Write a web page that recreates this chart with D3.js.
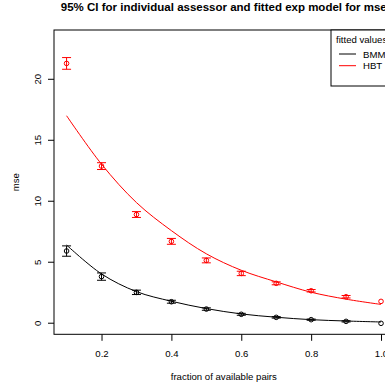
<!DOCTYPE html>
<html>
<head>
<meta charset="utf-8">
<script src="https://cdn.jsdelivr.net/npm/d3@7"></script>
<style>
  body { margin: 0; background: #fff; }
  svg { font-family: "Liberation Sans", Arial, sans-serif; }
</style>
</head>
<body>
<div id="chart"></div>
<script>
// fractions of available pairs
const fractions = [0.1, 0.2, 0.3, 0.4, 0.5, 0.6, 0.7, 0.8, 0.9, 1.0];

// BMM: mse per fraction with 95% CI (last point has no interval)
const bmmMse   = [5.88, 3.78, 2.49, 1.72, 1.12, 0.69, 0.44, 0.25, 0.11, -0.05];
const bmmLower = [5.45, 3.48, 2.31, 1.60, 1.02, 0.61, 0.38, 0.20, 0.06, null];
const bmmUpper = [6.30, 4.08, 2.67, 1.84, 1.22, 0.77, 0.50, 0.30, 0.16, null];
const bmmFit   = [6.37, 4.00, 2.55, 1.76, 1.16, 0.72, 0.45, 0.25, 0.14, 0.06];

// HBT
const hbtMse   = [21.26, 12.84, 8.87, 6.67, 5.11, 4.04, 3.23, 2.62, 2.13, 1.75];
const hbtLower = [20.78, 12.56, 8.63, 6.43, 4.91, 3.86, 3.11, 2.52, 2.03, null];
const hbtUpper = [21.74, 13.12, 9.11, 6.91, 5.31, 4.22, 3.35, 2.72, 2.23, null];
const hbtFit   = [16.97, 13.00, 9.85, 7.55, 5.65, 4.30, 3.35, 2.50, 1.93, 1.50];

const xTicks = [0.2, 0.4, 0.6, 0.8, 1.0];
const yTicks = [0, 5, 10, 15, 20];

const titleText = '95% CI for individual assessor and fitted exp model for mse';
const legendTitle = 'fitted values';
const seriesNames = ['BMM', 'HBT'];
const seriesColors = ['#000000', '#ff0000'];

const width = 385, height = 385;
const plot = { left: 54, right: 393.6, top: 30, bottom: 334.3 };
const fontSize = '9.6px';

const svg = d3.select('#chart')
  .append('svg')
    .attr('width', width)
    .attr('height', height);

const x = d3.scaleLinear()
  .domain([0.064, 1.036])
  .range([plot.left, plot.right]);

const y = d3.scaleLinear()
  .domain([-0.95, 24.0])
  .range([plot.bottom, plot.top]);

// title
svg.append('text')
  .attr('x', (plot.left + plot.right) / 2)
  .attr('y', 10.5)
  .attr('text-anchor', 'middle')
  .style('font-size', '11.5px')
  .style('font-weight', 'bold')
  .text(titleText);

// x axis
const xAxis = d3.axisBottom(x)
  .tickValues(xTicks)
  .tickSize(6.5)
  .tickSizeOuter(0)
  .tickPadding(9)
  .tickFormat(d3.format('.1f'));

const gx = svg.append('g')
  .attr('transform', 'translate(0,' + plot.bottom + ')')
  .call(xAxis);
gx.select('.domain').remove();
gx.selectAll('text')
  .attr('fill', '#000')
  .style('font-size', fontSize)
  .style('font-family', '"Liberation Sans", Arial, sans-serif');

// y axis, labels rotated like base R
const yAxis = d3.axisLeft(y)
  .tickValues(yTicks)
  .tickSize(6)
  .tickSizeOuter(0)
  .tickFormat(d3.format('d'));

const gy = svg.append('g')
  .attr('transform', 'translate(' + plot.left + ',0)')
  .call(yAxis);
gy.select('.domain').remove();
gy.selectAll('.tick text')
  .attr('x', null)
  .attr('dy', null)
  .attr('text-anchor', 'middle')
  .attr('transform', 'translate(-13.5,0) rotate(-90)')
  .attr('fill', '#000')
  .style('font-size', fontSize)
  .style('font-family', '"Liberation Sans", Arial, sans-serif');

// axis titles
svg.append('text')
  .attr('x', (plot.left + plot.right) / 2)
  .attr('y', 379.5)
  .attr('text-anchor', 'middle')
  .style('font-size', fontSize)
  .text('fraction of available pairs');

svg.append('text')
  .attr('transform', 'translate(18.5,' + ((plot.top + plot.bottom) / 2) + ') rotate(-90)')
  .attr('text-anchor', 'middle')
  .style('font-size', fontSize)
  .text('mse');

// fitted curves
const line = d3.line()
  .x((d) => x(d[0]))
  .y((d) => y(d[1]))
  .curve(d3.curveCatmullRom.alpha(0.5));

const series = [
  { mse: bmmMse, lo: bmmLower, hi: bmmUpper, fit: bmmFit, color: seriesColors[0] },
  { mse: hbtMse, lo: hbtLower, hi: hbtUpper, fit: hbtFit, color: seriesColors[1] }
];

const dataGroup = svg.append('g');

series.forEach((s) => {
  dataGroup.append('path')
    .datum(fractions.map((f, i) => [f, s.fit[i]]))
    .attr('fill', 'none')
    .attr('stroke', s.color)
    .attr('stroke-width', 1)
    .attr('d', line);

  const pts = fractions.map((f, i) => ({ f: f, m: s.mse[i], lo: s.lo[i], hi: s.hi[i] }));
  const withCi = pts.filter((d) => d.lo !== null);

  // error bars
  dataGroup.selectAll(null)
    .data(withCi)
    .enter()
    .append('line')
      .attr('x1', (d) => x(d.f))
      .attr('x2', (d) => x(d.f))
      .attr('y1', (d) => y(d.lo))
      .attr('y2', (d) => y(d.hi))
      .attr('stroke', s.color);

  ['lo', 'hi'].forEach((k) => {
    dataGroup.selectAll(null)
      .data(withCi)
      .enter()
      .append('line')
        .attr('x1', (d) => x(d.f) - 4.5)
        .attr('x2', (d) => x(d.f) + 4.5)
        .attr('y1', (d) => y(d[k]))
        .attr('y2', (d) => y(d[k]))
        .attr('stroke', s.color);
  });

  dataGroup.selectAll(null)
    .data(pts)
    .enter()
    .append('circle')
      .attr('cx', (d) => x(d.f))
      .attr('cy', (d) => y(d.m))
      .attr('r', 2.3)
      .attr('fill', 'none')
      .attr('stroke', s.color)
      .attr('stroke-width', 1);
});

// plot box
svg.append('rect')
  .attr('x', plot.left)
  .attr('y', plot.top)
  .attr('width', plot.right - plot.left)
  .attr('height', plot.bottom - plot.top)
  .attr('fill', 'none')
  .attr('stroke', '#000');

// legend
const legend = svg.append('g');
legend.append('rect')
  .attr('x', 331)
  .attr('y', plot.top)
  .attr('width', 62)
  .attr('height', 56)
  .attr('fill', '#fff')
  .attr('stroke', '#000');

legend.append('text')
  .attr('x', 336)
  .attr('y', 42.5)
  .style('font-size', fontSize)
  .text(legendTitle);

seriesNames.forEach((name, i) => {
  const ly = 54 + i * 11.7;
  legend.append('line')
    .attr('x1', 339)
    .attr('x2', 356)
    .attr('y1', ly)
    .attr('y2', ly)
    .attr('stroke', seriesColors[i]);
  legend.append('text')
    .attr('x', 363)
    .attr('y', ly + 3.5)
    .style('font-size', fontSize)
    .text(name);
});
</script>
</body>
</html>
